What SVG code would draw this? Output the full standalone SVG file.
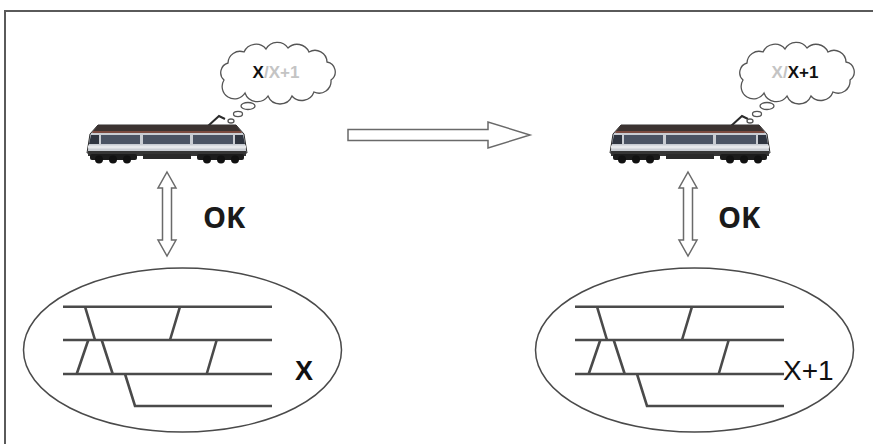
<svg xmlns="http://www.w3.org/2000/svg" width="873" height="444" viewBox="0 0 873 444">
  <style>
    .frame{fill:none;stroke:#5a5a5a;stroke-width:2}
    .outline{fill:#fff;stroke:#6a6a6a;stroke-width:1.5;stroke-linejoin:miter}
    .oval{fill:#fff;stroke:#4a4a4a;stroke-width:1.5}
    .track{fill:none;stroke:#4a4a4a;stroke-width:2.6}
    .cloud{fill:#fff;stroke:#555;stroke-width:1.3}
    .lbl{font-family:"Liberation Sans",Arial,sans-serif;fill:#111}
    .ok{font-family:"Open Sans","Liberation Sans",sans-serif;font-weight:700;font-size:29px;fill:#1a1a1a}
    .think{font-family:"Liberation Sans",Arial,sans-serif;font-weight:700;font-size:17px}
    .on{fill:#111}
    .off{fill:#c4c4c4}
  </style>
  <defs>
    <!-- electric locomotive, local origin at left end, y=0 near the roof -->
    <g id="loco">
      <!-- pantograph -->
      <path d="M121,4 L132,-6 L138,-3" fill="none" stroke="#2b2b2b" stroke-width="2"/>
      <!-- body shell with sloped cab ends -->
      <path d="M11,3 H149 L157,12 L160,31 H0 L3,12 Z" fill="#c8ccd2" stroke="#2e2e2e" stroke-width="1"/>
      <!-- roof and rust stripe -->
      <path d="M11,3 H149 L154,9 H6 Z" fill="#3b3331"/>
      <path d="M6,9 H154 L155,11 H5 Z" fill="#7b4b40"/>
      <!-- window band -->
      <path d="M4,13 H12 V22 H2 Z" fill="#2f3540"/>
      <path d="M148,13 H156 L158,22 H148 Z" fill="#2f3540"/>
      <rect x="14" y="13" width="39" height="9" fill="#4a5363"/>
      <rect x="56" y="13" width="47" height="9" fill="#4a5363"/>
      <rect x="106" y="13" width="40" height="9" fill="#4a5363"/>
      <rect x="1" y="23.5" width="158" height="3" fill="#e6e8eb"/>
      <!-- underframe and bogies -->
      <rect x="1" y="29" width="158" height="5" fill="#353535"/>
      <rect x="56" y="32" width="48" height="5" fill="#2a2a2a"/>
      <rect x="3" y="32" width="47" height="6" rx="2" fill="#1c1c1c"/>
      <rect x="110" y="32" width="47" height="6" rx="2" fill="#1c1c1c"/>
      <g fill="#111">
        <circle cx="12" cy="37.5" r="4"/><circle cx="26" cy="37.5" r="4"/><circle cx="40" cy="37.5" r="4"/>
        <circle cx="120" cy="37.5" r="4"/><circle cx="134" cy="37.5" r="4"/><circle cx="148" cy="37.5" r="4"/>
      </g>
    </g>
    <!-- thought cloud with trailing bubbles, centred on the cloud -->
    <g id="thought">
      <path class="cloud" d="M-54,8 A10 10 0 0 1 -50,-9 A12 12 0 0 1 -34,-20 A13 13 0 0 1 -12,-23 A13 13 0 0 1 10,-24 A13 13 0 0 1 31,-20 A12 12 0 0 1 49,-10 A10 10 0 0 1 53,8 A12 12 0 0 1 36,20 A13 13 0 0 1 14,24 A13 13 0 0 1 -10,24 A13 13 0 0 1 -33,21 A11 11 0 0 1 -54,8 Z"/>
      <ellipse class="cloud" cx="-30" cy="34" rx="7" ry="3.5"/>
      <ellipse class="cloud" cx="-40" cy="42" rx="4.5" ry="2.6"/>
      <ellipse class="cloud" cx="-47" cy="49" rx="3" ry="2"/>
    </g>
    <!-- two-way vertical arrow -->
    <path id="updown" class="outline" d="M0,0 L9,16 L4.5,16 L4.5,68 L9,68 L0,84 L-9,68 L-4.5,68 L-4.5,16 L-9,16 Z"/>
    <!-- track layout -->
    <g id="layout" class="track">
      <path d="M63,306.7 H272 M63,340 H272 M63,374 H272 M125,374 L135,406 H272"/>
      <path d="M85,306.7 L95,340 M88.3,340 L76.7,374 M101.7,340 L112.7,374 M180,306.7 L170,340 M216.7,340 L206.7,374"/>
    </g>
  </defs>

  <path class="frame" d="M5,444 V11 H873"/>

  <g id="connectors">
    <path class="outline" d="M348,129.5 H488 V122 L530,135 L488,148 V140.5 H348 Z"/>
    <use href="#updown" transform="translate(167,172)"/>
    <use href="#updown" transform="translate(688,172)"/>
  </g>

  <g id="train-before">
    <use href="#loco" transform="translate(87,122)"/>
    <use href="#thought" transform="translate(278,72)"/>
    <text class="think" x="276" y="78" text-anchor="middle"><tspan class="on">X</tspan><tspan class="off">/X+1</tspan></text>
  </g>

  <g id="train-after">
    <use href="#loco" transform="translate(610,122)"/>
    <use href="#thought" transform="translate(797,72)"/>
    <text class="think" x="795" y="78" text-anchor="middle"><tspan class="off">X/</tspan><tspan class="on">X+1</tspan></text>
  </g>

  <g id="ok-before"><text class="ok" x="203" y="228">OK</text></g>
  <g id="ok-after"><text class="ok" x="718" y="228">OK</text></g>

  <g id="network-before">
    <ellipse class="oval" cx="182.5" cy="350" rx="159" ry="82"/>
    <use href="#layout"/>
    <text class="lbl" x="295" y="380" font-size="27" font-weight="700">X</text>
  </g>

  <g id="network-after">
    <ellipse class="oval" cx="694.5" cy="350" rx="159" ry="82"/>
    <use href="#layout" transform="translate(512,0)"/>
    <text class="lbl" x="783" y="380" font-size="28">X+1</text>
  </g>
</svg>
